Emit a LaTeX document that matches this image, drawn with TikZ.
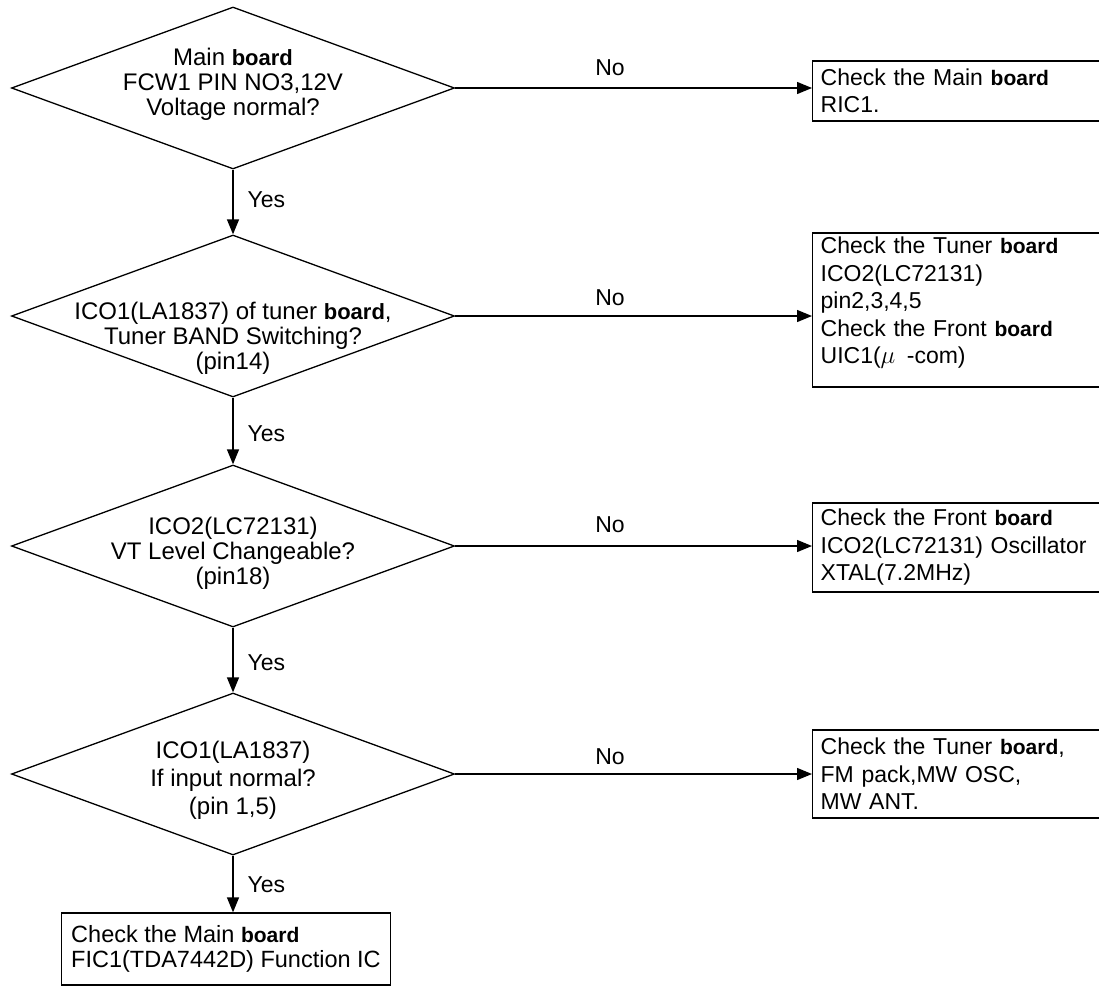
\documentclass[tikz,border=0pt]{standalone}
\usepackage{fontspec}
\setmainfont{Liberation Sans}
\usetikzlibrary{shapes.geometric,arrows.meta}
\newcommand{\bd}{{\fontsize{21}{26}\selectfont\bfseries board}}
\newcommand{\bdd}{{\fontsize{22}{26}\selectfont\bfseries board}}
\tikzset{
  dia/.style={draw, shape=diamond, minimum width=443pt, minimum height=162pt, inner sep=0pt},
  dtxt/.style={align=center, inner sep=0pt, font=\fontsize{24}{25}\selectfont},
  rbox/.style={draw, anchor=west, align=left, text width=280pt, inner xsep=8pt, inner ysep=0pt, font=\fontsize{23}{27.5}\selectfont},
  lbl/.style={inner sep=0pt, font=\fontsize{23}{26}\selectfont},
  arr/.style={-{Triangle[length=15pt,width=12pt]}},
}
\begin{document}
\begin{tikzpicture}[x=1pt,y=-1pt,line width=1.3pt]
\useasboundingbox (0,0) rectangle (1099,993);
\clip (0,0) rectangle (1099,993);
% decisions
\node[dia] (d1) at (233,88) {};
\node[dia] (d2) at (233,316) {};
\node[dia] (d3) at (233,546) {};
\node[dia] (d4) at (233,774) {};
\node[dtxt] (t1) at (233,84) {Main \bdd\\FCW1 PIN NO3,12V\\Voltage normal?};
\node[dtxt] (t2) at (233,338) {ICO1(LA1837) of tuner \bdd,\\Tuner BAND Switching?\\(pin14)};
\node[dtxt] (t3) at (233,553) {ICO2(LC72131)\\VT Level Changeable?\\(pin18)};
\node[dtxt, font=\fontsize{24}{28}\selectfont] (t4) at (233,780) {ICO1(LA1837)\\If input normal?\\(pin 1,5)};
% boxes
\node[rbox, minimum height=60pt] (b1) at (812,91) {Check the Main \bd\\RIC1.};
\node[rbox, minimum height=154pt] (b2) at (812,310) {Check the Tuner \bd\\ICO2(LC72131)\\pin2,3,4,5\\Check the Front \bd\\UIC1($\mu$~\,-com)\\[-8pt]\mbox{}};
\node[rbox, minimum height=89pt] (b3) at (812,547.5) {Check the Front \bd\\ICO2(LC72131) Oscillator\\XTAL(7.2MHz)};
\node[rbox, minimum height=88pt] (b4) at (812,774) {Check the Tuner \bd,\\FM pack,MW OSC,\\MW ANT.};
\node[draw, align=left, minimum width=324pt, minimum height=72pt, inner xsep=10pt, font=\fontsize{23.5}{25}\selectfont] (b5) at (226,949) {Check the Main \bd\\FIC1(TDA7442D) Function IC};
% connectors
\draw[arr] (d1.east) -- (d1.east -| b1.west);
\draw[arr] (d2.east) -- (d2.east -| b2.west);
\draw[arr] (d3.east) -- (d3.east -| b3.west);
\draw[arr] (d4.east) -- (d4.east -| b4.west);
\draw[arr] (d1.south) -- (d2.north);
\draw[arr] (d2.south) -- (d3.north);
\draw[arr] (d3.south) -- (d4.north);
\draw[arr] (d4.south) -- (d4.south |- b5.north);
% labels
\node[lbl] (n1) at (610,68) {No};
\node[lbl] (n2) at (610,298) {No};
\node[lbl] (n3) at (610,525) {No};
\node[lbl] (n4) at (610,757) {No};
\node[lbl, anchor=west] (y1) at (247,200) {Yes};
\node[lbl, anchor=west] (y2) at (247,434) {Yes};
\node[lbl, anchor=west] (y3) at (247,663) {Yes};
\node[lbl, anchor=west] (y4) at (247,885) {Yes};
\end{tikzpicture}
\end{document}
